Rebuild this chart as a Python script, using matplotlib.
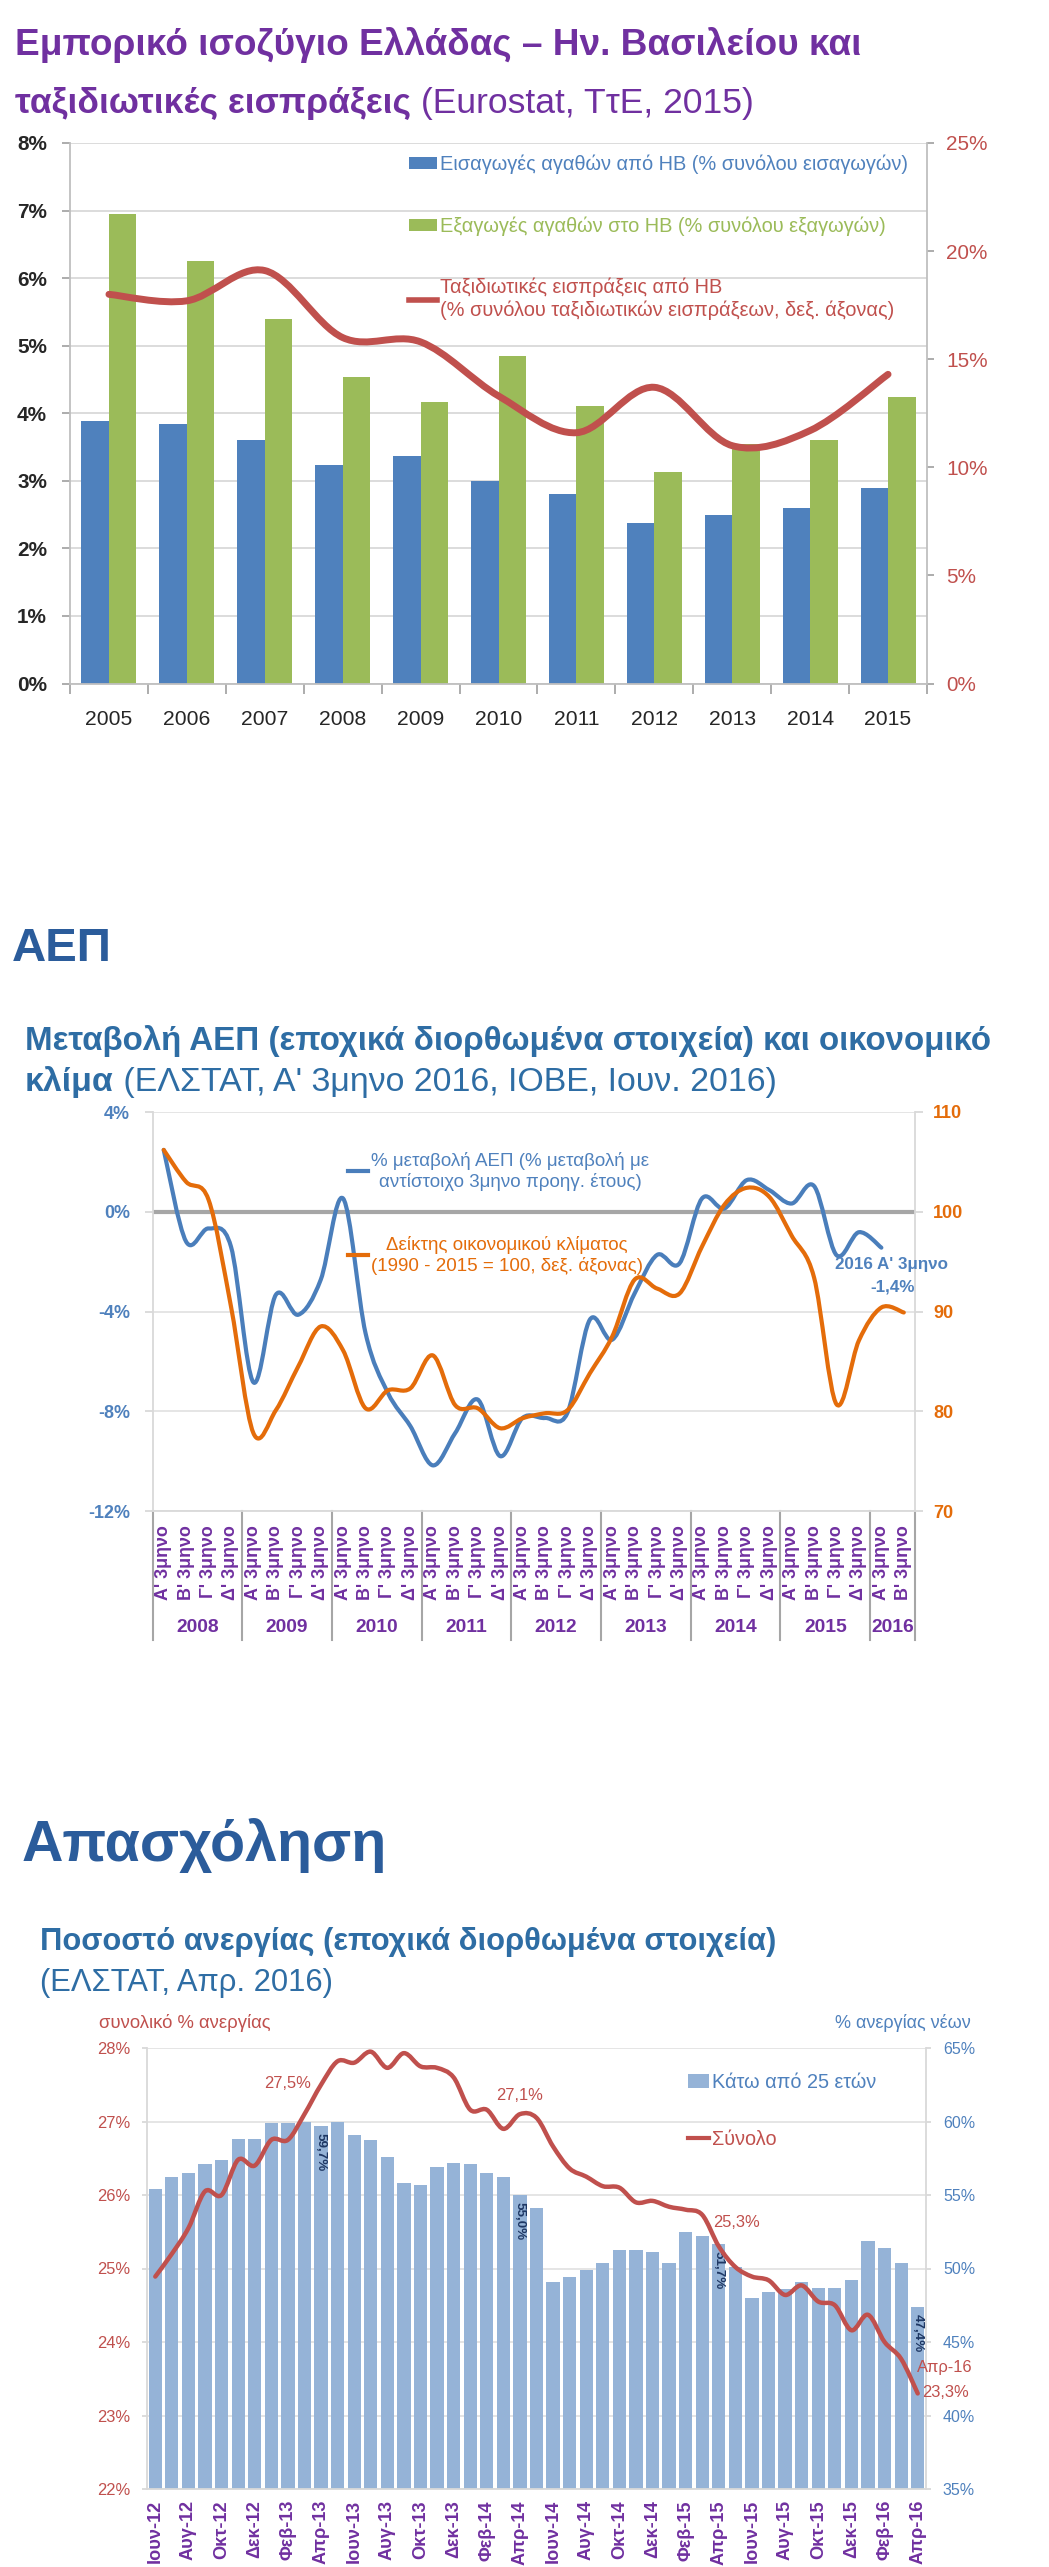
import numpy as np
import matplotlib.pyplot as plt
from matplotlib.path import Path
from matplotlib.patches import PathPatch, Patch
from matplotlib.lines import Line2D
from matplotlib.ticker import FuncFormatter

plt.rcParams['font.family'] = ['Liberation Sans', 'DejaVu Sans']

W, H = 1049, 2567

# --- chart 1: UK share of Greek trade and travel receipts
years = ['2005', '2006', '2007', '2008', '2009', '2010', '2011', '2012', '2013', '2014', '2015']
imports_uk = [3.89, 3.84, 3.60, 3.23, 3.37, 3.00, 2.80, 2.38, 2.50, 2.60, 2.90]
exports_uk = [6.95, 6.25, 5.39, 4.53, 4.17, 4.84, 4.10, 3.13, 3.55, 3.61, 4.24]
travel_uk = [18.0, 17.7, 19.1, 16.0, 15.8, 13.3, 11.6, 13.7, 11.0, 11.7, 14.3]

# --- chart 2: GDP change and economic climate
quarter_labels = ["Α' 3μηνο", "Β' 3μηνο", "Γ' 3μηνο", "Δ' 3μηνο"] * 8 + ["Α' 3μηνο", "Β' 3μηνο"]
quarter_years = ['2008', '2009', '2010', '2011', '2012', '2013', '2014', '2015', '2016']
gdp_change = [2.48, -1.2, -0.67, -1.4, -6.84, -3.33, -4.13, -2.73, 0.53, -4.87, -7.27,
              -8.6, -10.17, -8.87, -7.53, -9.8, -8.27, -8.27, -8.07, -4.33, -5.13, -3.27,
              -1.73, -2.07, 0.53, 0.13, 1.27, 0.87, 0.33, 1.03, -1.74, -0.82, -1.44]
climate_index = [106.2, 103.0, 101.2, 90.5, 77.8, 80.1, 84.5, 88.5, 86.1, 80.3, 82.1,
                 82.3, 85.6, 80.6, 80.3, 78.3, 79.3, 79.8, 80.1, 83.8, 87.5, 93.2,
                 92.3, 91.8, 96.5, 100.7, 102.4, 101.5, 97.6, 93.4, 80.7, 87.1, 90.4, 89.9]

# --- chart 3: unemployment
months = ['Ιουν-12', 'Ιουλ-12', 'Αυγ-12', 'Σεπ-12', 'Οκτ-12', 'Νοε-12', 'Δεκ-12',
          'Ιαν-13', 'Φεβ-13', 'Μαρ-13', 'Απρ-13', 'Μαϊ-13', 'Ιουν-13', 'Ιουλ-13', 'Αυγ-13', 'Σεπ-13', 'Οκτ-13', 'Νοε-13', 'Δεκ-13',
          'Ιαν-14', 'Φεβ-14', 'Μαρ-14', 'Απρ-14', 'Μαϊ-14', 'Ιουν-14', 'Ιουλ-14', 'Αυγ-14', 'Σεπ-14', 'Οκτ-14', 'Νοε-14', 'Δεκ-14',
          'Ιαν-15', 'Φεβ-15', 'Μαρ-15', 'Απρ-15', 'Μαϊ-15', 'Ιουν-15', 'Ιουλ-15', 'Αυγ-15', 'Σεπ-15', 'Οκτ-15', 'Νοε-15', 'Δεκ-15',
          'Ιαν-16', 'Φεβ-16', 'Μαρ-16', 'Απρ-16']
youth_unemp = [55.4, 56.25, 56.5, 57.1, 57.4, 58.8, 58.8, 59.9, 59.9, 60.0, 59.7, 60.0, 59.1,
               58.75, 57.6, 55.8, 55.7, 56.9, 57.2, 57.1, 56.5, 56.25, 55.0, 54.1, 49.05, 49.4,
               49.9, 50.4, 51.25, 51.25, 51.1, 50.4, 52.5, 52.2, 51.7, 50.1, 48.0, 48.4, 48.6,
               49.1, 48.7, 48.7, 49.25, 51.9, 51.4, 50.4, 47.4]
total_unemp = [24.89, 25.2, 25.55, 26.05, 26.0, 26.48, 26.4, 26.75, 26.75, 27.1, 27.5, 27.82,
               27.8, 27.95, 27.73, 27.93, 27.75, 27.73, 27.6, 27.16, 27.16, 26.9, 27.1, 27.05,
               26.66, 26.36, 26.25, 26.12, 26.1, 25.9, 25.92, 25.84, 25.8, 25.73, 25.3, 25.02,
               24.89, 24.84, 24.64, 24.77, 24.55, 24.5, 24.16, 24.37, 24.0, 23.77, 23.3]
youth_marked = [10, 22, 34, 46]
total_marked = [10, 22, 34, 46]

PURPLE = '#7030A0'
HEAD = '#2B5C9B'
SUB = '#2E6DA4'
BLUE = '#4F81BD'
GREEN = '#9BBB59'
RED = '#C0504D'
ORANGE = '#E46C0A'
LIGHT = '#D9D9D9'
PT = 100 / 72

fig = plt.figure(figsize=(W / 100, H / 100), dpi=100)
renderer = fig.canvas.get_renderer()


def fx(x):
    return x / W


def fy(y):
    return 1 - y / H


def axes_px(left, top, right, bottom):
    return fig.add_axes([fx(left), fy(bottom), (right - left) / W, (bottom - top) / H])


def text_width(s, size, weight='normal'):
    t = fig.text(0, 0, s, fontsize=size, fontweight=weight)
    w = t.get_window_extent(renderer).width
    t.remove()
    return w


def size_for(s, width, weight='normal'):
    return 20 * width / text_width(s, 20, weight)


def line_size(parts, width):
    # font size so that a line made of several (text, weight) parts spans the width
    return 20 * width / sum(text_width(s, 20, w) for s, w in parts)


def put_line(x, y, parts, size, color):
    for s, weight in parts:
        t = fig.text(fx(x), fy(y), s, fontsize=size, fontweight=weight, color=color, va='baseline')
        x += t.get_window_extent(renderer).width


def smooth_line(ax, x, y, **kw):
    # excel-like smoothed line through the points (bezier segments)
    pts = np.column_stack([x, y]).astype(float)
    ext = np.vstack([pts[0], pts, pts[-1]])
    verts = [pts[0]]
    codes = [Path.MOVETO]
    for i in range(len(pts) - 1):
        p0, p1, p2, p3 = ext[i], ext[i + 1], ext[i + 2], ext[i + 3]
        verts += [p1 + (p2 - p0) / 6, p2 - (p3 - p1) / 6, p2]
        codes += [Path.CURVE4] * 3
    ax.add_patch(PathPatch(Path(verts, codes), fill=False, capstyle='round', joinstyle='round', **kw))


pct = FuncFormatter(lambda v, p: f'{v:.0f}%')

# ================= chart 1 =================
t1 = [('Εμπορικό ισοζύγιο Ελλάδας – Ην. Βασιλείου και', 'bold')]
t2 = [('ταξιδιωτικές εισπράξεις', 'bold'), (' (Eurostat, ΤτΕ, 2015)', 'normal')]
put_line(15, 55, t1, line_size(t1, 845), PURPLE)
put_line(15, 113, t2, line_size(t2, 738), PURPLE)

ax1 = axes_px(70, 143, 927, 683.5)
x = np.arange(len(years))
bw = 0.353
ax1.bar(x - bw / 2, imports_uk, bw, color=BLUE, zorder=2)
ax1.bar(x + bw / 2, exports_uk, bw, color=GREEN, zorder=2)
ax1.set_xlim(-0.5, len(years) - 0.5)
ax1.set_ylim(0, 8)
ax1.set_yticks(range(0, 9))
ax1.yaxis.set_major_formatter(pct)
ax1.grid(axis='y', color=LIGHT, lw=1.3)
ax1.set_axisbelow(True)
ax1.set_xticks(x, years)
ax1.set_xticks(np.arange(len(years) + 1) - 0.5, minor=True)
ax1.tick_params(axis='x', which='major', length=0, pad=19, labelsize=size_for('2005', 47), labelcolor='#262626')
ax1.tick_params(axis='x', which='minor', length=7, color='#A6A6A6', width=1.3)
ax1.tick_params(axis='y', length=8 / PT, color='#A6A6A6', width=1.3, pad=10.8,
                labelsize=size_for('7%', 30, 'bold'), labelcolor='#262626')
for t in ax1.get_yticklabels():
    t.set_fontweight('bold')
for sp in ['top', 'right']:
    ax1.spines[sp].set_visible(False)
for sp in ['left', 'bottom']:
    ax1.spines[sp].set_color('#BFBFBF')
    ax1.spines[sp].set_linewidth(1.3)

ax1b = ax1.twinx()
ax1b.set_ylim(0, 25)
ax1b.set_yticks(range(0, 26, 5))
ax1b.yaxis.set_major_formatter(pct)
ax1b.tick_params(axis='y', length=7 / PT, color='#A6A6A6', width=1.3, pad=8.6,
                 labelsize=size_for('7%', 30, 'bold'), labelcolor=RED)
for sp in ['top', 'left', 'bottom']:
    ax1b.spines[sp].set_visible(False)
ax1b.spines['right'].set_color('#BFBFBF')
ax1b.spines['right'].set_linewidth(1.3)
smooth_line(ax1b, x, travel_uk, edgecolor=RED, lw=5, zorder=3)

lbl1 = ['Εισαγωγές αγαθών από ΗΒ (% συνόλου εισαγωγών)',
        'Εξαγωγές αγαθών στο ΗΒ (% συνόλου εξαγωγών)',
        'Ταξιδιωτικές εισπράξεις από ΗΒ\n(% συνόλου ταξιδιωτικών εισπράξεων, δεξ. άξονας)']
fs1 = size_for(lbl1[0], 467)
fs1px = fs1 * PT
ax1b.legend(handles=[Patch(facecolor=BLUE), Patch(facecolor=GREEN), Line2D([], [], color=RED, lw=4)],
            labels=lbl1, loc='upper left', bbox_to_anchor=(fx(409), fy(155)), bbox_transform=fig.transFigure,
            frameon=False, fontsize=fs1, labelcolor=[BLUE, GREEN, RED], handlelength=28 / fs1px,
            handleheight=0.55, handletextpad=3 / fs1px, labelspacing=2.1, borderpad=0, borderaxespad=0)

# ================= chart 2 =================
h1 = [('ΑΕΠ', 'bold')]
put_line(12, 961, h1, line_size(h1, 100), HEAD)
g1 = [('Μεταβολή ΑΕΠ (εποχικά διορθωμένα στοιχεία) και οικονομικό', 'bold')]
g2 = [('κλίμα', 'bold'), (" (ΕΛΣΤΑΤ, Α' 3μηνο 2016, ΙΟΒΕ, Ιουν. 2016)", 'normal')]
put_line(25, 1050, g1, line_size(g1, 968), SUB)
put_line(25, 1091, g2, line_size(g2, 752), SUB)

ax2 = axes_px(152.5, 1112, 915, 1511)
q = np.arange(len(quarter_labels))
ax2.set_xlim(-0.5, len(q) - 0.5)
ax2.set_ylim(-12, 4)
ax2.set_yticks([-12, -8, -4, 0, 4])
ax2.yaxis.set_major_formatter(pct)
ax2.grid(axis='y', color='#E3E3E3', lw=1.3)
ax2.set_axisbelow(True)
ax2.axhline(0, color='#A6A6A6', lw=3, zorder=1)
ax2.set_xticks(q, quarter_labels, rotation=90)
ax2.tick_params(axis='x', length=0, pad=10, labelsize=size_for("Α' 3μηνο", 75, 'bold'), labelcolor=PURPLE)
ax2.tick_params(axis='y', length=8 / PT, color=LIGHT, width=1.3, pad=10.4,
                labelsize=size_for('0%', 26, 'bold'), labelcolor=BLUE)
for t in ax2.get_xticklabels() + ax2.get_yticklabels():
    t.set_fontweight('bold')
for sp in ['top', 'right']:
    ax2.spines[sp].set_visible(False)
for sp in ['left', 'bottom']:
    ax2.spines[sp].set_color(LIGHT)
    ax2.spines[sp].set_linewidth(1.3)
smooth_line(ax2, q[:len(gdp_change)], gdp_change, edgecolor='#4A7EBB', lw=3, zorder=4)

xaxis_tr = ax2.get_xaxis_transform()
bounds = [-0.5] + [4 * k + 3.5 for k in range(8)] + [len(q) - 0.5]
for b in bounds:
    ax2.plot([b, b], [0, -0.323], transform=xaxis_tr, clip_on=False, color='#A6A6A6', lw=1.5)
ys = size_for('2008', 43, 'bold')
for k, yr in enumerate(quarter_years):
    ax2.text((bounds[k] + bounds[k + 1]) / 2, -0.293, yr, transform=xaxis_tr, ha='center', va='center',
             color=PURPLE, fontsize=ys, fontweight='bold')

ax2b = ax2.twinx()
ax2b.set_ylim(70, 110)
ax2b.set_yticks(range(70, 111, 10))
ax2b.tick_params(axis='y', length=8 / PT, color=LIGHT, width=1.3, pad=7.2,
                 labelsize=size_for('100', 30, 'bold'), labelcolor=ORANGE)
for t in ax2b.get_yticklabels():
    t.set_fontweight('bold')
for sp in ['top', 'left', 'bottom']:
    ax2b.spines[sp].set_visible(False)
ax2b.spines['right'].set_color(LIGHT)
ax2b.spines['right'].set_linewidth(1.3)
smooth_line(ax2b, q, climate_index, edgecolor=ORANGE, lw=3, zorder=3)

lbl2 = ['% μεταβολή ΑΕΠ (% μεταβολή με\nαντίστοιχο 3μηνο προηγ. έτους)',
        'Δείκτης οικονομικού κλίματος\n(1990 - 2015 = 100, δεξ. άξονας)']
fs2 = size_for('% μεταβολή ΑΕΠ (% μεταβολή με', 278)
fs2px = fs2 * PT
leg2 = ax2b.legend(handles=[Line2D([], [], color='#4A7EBB', lw=3), Line2D([], [], color=ORANGE, lw=3)],
                   labels=lbl2, loc='upper left', bbox_to_anchor=(fx(348), fy(1152)), bbox_transform=fig.transFigure,
                   frameon=False, fontsize=fs2, labelcolor=[BLUE, ORANGE], handlelength=20 / fs2px,
                   handletextpad=3 / fs2px, labelspacing=2.4, borderpad=0, borderaxespad=0)
for t in leg2.get_texts():
    t.set_multialignment('center')

ls = size_for("2016 Α' 3μηνο", 113, 'bold')
fig.text(fx(948), fy(1264), "2016 Α' 3μηνο", ha='right', va='center', fontsize=ls, fontweight='bold', color=BLUE)
fig.text(fx(915), fy(1287), f'{gdp_change[-1]:.1f}%'.replace('.', ','), ha='right', va='center',
         fontsize=ls, fontweight='bold', color=BLUE)

# ================= chart 3 =================
h2 = [('Απασχόληση', 'bold')]
put_line(22, 1861, h2, line_size(h2, 365), HEAD)
u1 = [('Ποσοστό ανεργίας (εποχικά διορθωμένα στοιχεία)', 'bold')]
s = line_size(u1, 736)
put_line(40, 1950, u1, s, SUB)
put_line(40, 1991, [('(ΕΛΣΤΑΤ, Απρ. 2016)', 'normal')], s, SUB)

fig.text(fx(185), fy(2023), 'συνολικό % ανεργίας', ha='center', va='center',
         fontsize=size_for('συνολικό % ανεργίας', 172), color=RED)
fig.text(fx(903), fy(2023), '% ανεργίας νέων', ha='center', va='center',
         fontsize=size_for('% ανεργίας νέων', 136), color=BLUE)

ax3 = axes_px(147, 2048, 926, 2489)
m = np.arange(len(months))
ax3b = ax3.twinx()
ax3.set_zorder(ax3b.get_zorder() + 1)
ax3.patch.set_visible(False)

ax3b.bar(m, youth_unemp, 0.8, color='#95B3D7', zorder=2)
ax3b.set_ylim(35, 65)
ax3b.set_yticks(range(35, 66, 5))
ax3b.yaxis.set_major_formatter(pct)
ax3b.grid(axis='y', color='#E3E3E3', lw=1.3)
ax3b.set_axisbelow(True)
ax3b.tick_params(axis='y', length=5 / PT, color=LIGHT, width=1.3, pad=8.6,
                 labelsize=size_for('65%', 32), labelcolor=BLUE)
for sp in ['top', 'left', 'bottom']:
    ax3b.spines[sp].set_visible(False)
ax3b.spines['right'].set_color(LIGHT)
ax3b.spines['right'].set_linewidth(1.3)
bs = size_for('59,7%', 38, 'bold')
for i in youth_marked:
    ax3b.text(m[i], youth_unemp[i] - 0.5, f'{youth_unemp[i]:.1f}%'.replace('.', ','), rotation=-90,
              ha='center', va='top', fontsize=bs, fontweight='bold', color='#1F3864', zorder=3)

ax3.set_xlim(-0.5, len(months) - 0.5)
ax3.set_ylim(22, 28)
ax3.set_yticks(range(22, 29))
ax3.yaxis.set_major_formatter(pct)
ax3.set_xticks(m[::2], months[::2], rotation=90)
ax3.tick_params(axis='x', length=0, pad=8, labelsize=size_for('Ιουν-12', 63, 'bold'), labelcolor=PURPLE)
ax3.tick_params(axis='y', length=5 / PT, color=LIGHT, width=1.3, pad=8.6,
                labelsize=size_for('28%', 33), labelcolor=RED)
for t in ax3.get_xticklabels():
    t.set_fontweight('bold')
for sp in ['top', 'right']:
    ax3.spines[sp].set_visible(False)
for sp in ['left', 'bottom']:
    ax3.spines[sp].set_color(LIGHT)
    ax3.spines[sp].set_linewidth(1.3)
smooth_line(ax3, m, total_unemp, edgecolor=RED, lw=3.2, zorder=3)

ns = size_for('27,5%', 47)
offsets = {10: (-2.0, 0.02), 22: (-0.05, 0.26), 34: (1.05, 0.32), 46: (1.66, 0.01)}
for i in total_marked:
    dx, dy = offsets[i]
    ax3.text(m[i] + dx, total_unemp[i] + dy, f'{total_unemp[i]:.1f}%'.replace('.', ','), ha='center', va='center',
             fontsize=ns, color=RED, clip_on=False)
ax3.text(m[-1] + 1.66, total_unemp[-1] + 0.35, months[-1], ha='center', va='center', fontsize=ns, color=RED,
         clip_on=False)

lbl3 = ['Κάτω από 25 ετών', 'Σύνολο']
fs3 = size_for(lbl3[0], 164)
fs3px = fs3 * PT
ax3.legend(handles=[Patch(facecolor='#95B3D7'), Line2D([], [], color=RED, lw=3)], labels=lbl3,
           loc='upper left', bbox_to_anchor=(fx(688), fy(2073)), bbox_transform=fig.transFigure,
           frameon=False, fontsize=fs3, labelcolor=[BLUE, RED], handlelength=21 / fs3px, handleheight=0.7,
           handletextpad=3 / fs3px, labelspacing=1.9, borderpad=0, borderaxespad=0)

fig.savefig('out.png', dpi=100)
